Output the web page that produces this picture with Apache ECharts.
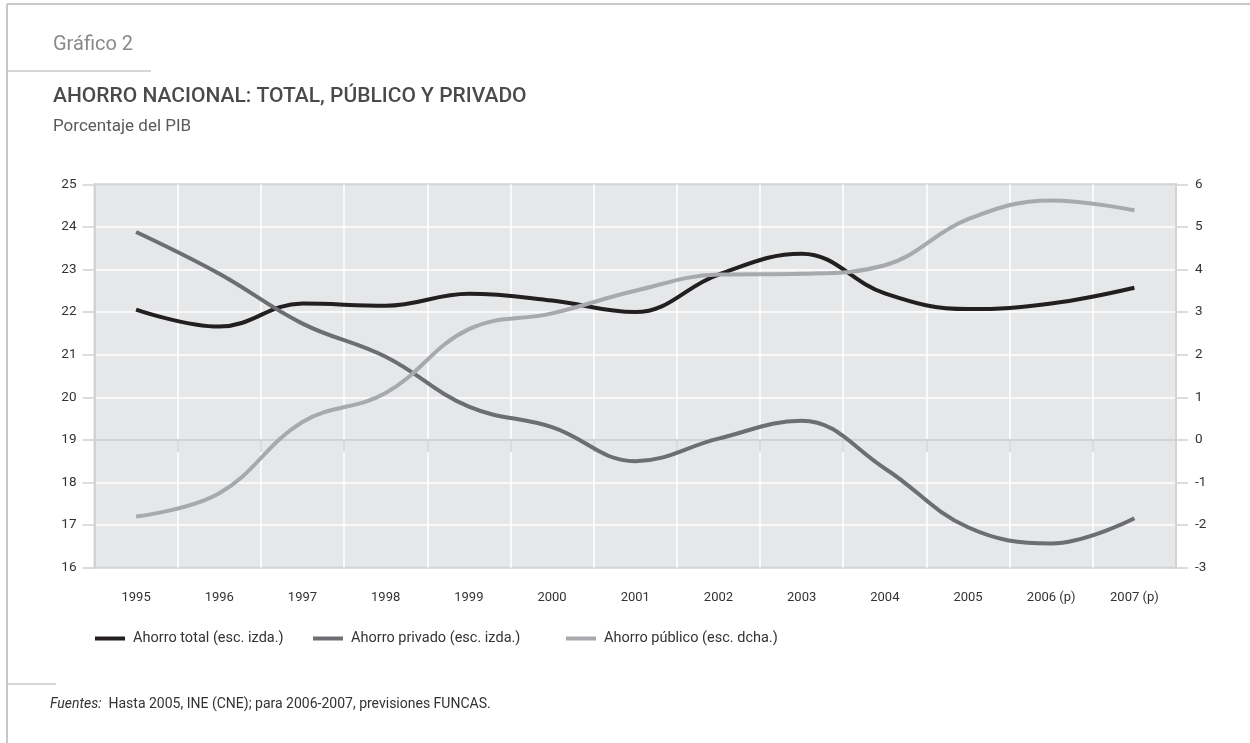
<!DOCTYPE html>
<html>
<head>
<meta charset="utf-8">
<script src="https://cdn.jsdelivr.net/npm/echarts@6/dist/echarts.min.js"></script>
<style>
  html, body { margin: 0; padding: 0; background: #fff; }
  #chart { width: 1250px; height: 743px; }
</style>
</head>
<body>
<div id="chart"></div>
<script>
// years on the x axis
const years = ['1995', '1996', '1997', '1998', '1999', '2000', '2001', '2002', '2003', '2004', '2005', '2006 (p)', '2007 (p)']

// left scale (% PIB)
const ahorroTotal = [22.06, 21.66, 22.2, 22.15, 22.43, 22.27, 22.0, 22.88, 23.37, 22.44, 22.07, 22.2, 22.57]
const ahorroPrivado = [23.88, 22.9, 21.73, 20.95, 19.78, 19.3, 18.5, 19.03, 19.45, 18.33, 16.95, 16.57, 17.16]
// right scale (% PIB)
const ahorroPublico = [-1.8, -1.25, 0.42, 1.1, 2.6, 2.97, 3.5, 3.88, 3.9, 4.1, 5.18, 5.62, 5.39]

const seriesNames = ['Ahorro total (esc. izda.)', 'Ahorro privado (esc. izda.)', 'Ahorro público (esc. dcha.)']
const seriesColors = ['#231f20', '#6d6e71', '#a7a9ac']

const FONT = 'Roboto, "Open Sans", sans-serif'
const axisGray = '#d1d3d4'
const frameGray = '#c7c8ca'

const chart = echarts.init(document.getElementById('chart'), null, {renderer: 'canvas'})

const legendAt = (name, left) => ({
  data: [name],
  left: left,
  top: 631,
  padding: 0,
  itemWidth: 30,
  itemHeight: 4,
  icon: 'rect',
  selectedMode: false,
  textStyle: {fontFamily: FONT, fontSize: 14.5, color: '#333', padding: [0, 0, 0, 3]}
})

const option = {
  animation: false,
  backgroundColor: '#fff',
  title: [
    {
      text: 'Gráfico 2', left: 53, top: 35, padding: 0,
      textStyle: {fontFamily: FONT, fontSize: 20, fontWeight: 'normal', color: '#8a8a8a'}
    },
    {
      text: 'AHORRO NACIONAL: TOTAL, PÚBLICO Y PRIVADO', left: 53, top: 86, padding: 0,
      textStyle: {fontFamily: FONT, fontSize: 21, fontWeight: 500, color: '#4a4a4a'}
    },
    {
      text: 'Porcentaje del PIB', left: 53, top: 118, padding: 0,
      textStyle: {fontFamily: FONT, fontSize: 17, fontWeight: 'normal', color: '#5a5a5a'}
    },
    {
      text: '{i|Fuentes:}  Hasta 2005, INE (CNE); para 2006-2007, previsiones FUNCAS.',
      left: 50, top: 697, padding: 0,
      textStyle: {
        fontFamily: FONT, fontSize: 14, fontWeight: 'normal', color: '#333',
        rich: {i: {fontFamily: FONT, fontSize: 14, fontStyle: 'italic', color: '#333'}}
      }
    }
  ],
  // page frame lines
  graphic: [
    {type: 'line', shape: {x1: 7, y1: 4, x2: 1250, y2: 4}, style: {stroke: frameGray, lineWidth: 2}, silent: true},
    {type: 'line', shape: {x1: 7, y1: 4, x2: 7, y2: 743}, style: {stroke: frameGray, lineWidth: 2}, silent: true},
    {type: 'line', shape: {x1: 7, y1: 71, x2: 151, y2: 71}, style: {stroke: frameGray, lineWidth: 1.5}, silent: true},
    {type: 'line', shape: {x1: 7, y1: 684, x2: 56, y2: 684}, style: {stroke: frameGray, lineWidth: 1.5}, silent: true}
  ],
  legend: [
    legendAt(seriesNames[0], 95),
    legendAt(seriesNames[1], 313),
    legendAt(seriesNames[2], 566)
  ],
  grid: {
    left: 94.5,
    right: 74,
    top: 184.3,
    bottom: 175.3,
    show: true,
    backgroundColor: '#e6e7e8',
    borderColor: axisGray,
    borderWidth: 2
  },
  xAxis: {
    type: 'category',
    data: years,
    boundaryGap: true,
    axisLine: {show: true, lineStyle: {color: axisGray, width: 2}},
    axisTick: {show: true, length: 12, lineStyle: {color: axisGray, width: 1.5}},
    axisLabel: {fontFamily: FONT, fontSize: 13, color: '#333', margin: 24, interval: 0},
    splitLine: {show: true, showMinLine: false, showMaxLine: false, lineStyle: {color: '#fff', width: 1.5}}
  },
  yAxis: [
    {
      type: 'value',
      position: 'left',
      min: 16, max: 25, interval: 1,
      axisLine: {show: true, lineStyle: {color: axisGray, width: 2}},
      axisTick: {show: true, length: 12, lineStyle: {color: axisGray, width: 1.5}},
      axisLabel: {fontFamily: FONT, fontSize: 13.5, color: '#333', margin: 18},
      splitLine: {show: true, showMinLine: false, showMaxLine: false, lineStyle: {color: '#fff', width: 1.5}}
    },
    {
      type: 'value',
      position: 'right',
      min: -3, max: 6, interval: 1,
      axisLine: {show: true, lineStyle: {color: axisGray, width: 2}},
      axisTick: {show: true, length: 12, lineStyle: {color: axisGray, width: 1.5}},
      axisLabel: {fontFamily: FONT, fontSize: 13.5, color: '#333', margin: 19},
      splitLine: {show: false}
    }
  ],
  series: [
    {name: seriesNames[0], data: ahorroTotal, yAxisIndex: 0},
    {name: seriesNames[1], data: ahorroPrivado, yAxisIndex: 0},
    {name: seriesNames[2], data: ahorroPublico, yAxisIndex: 1}
  ].map((s, i) => ({
    ...s,
    type: 'line',
    smooth: 0.4,
    showSymbol: false,
    symbol: 'none',
    color: seriesColors[i],
    lineStyle: {color: seriesColors[i], width: 4, cap: 'butt'}
  }))
}

chart.setOption(option)
</script>
</body>
</html>
